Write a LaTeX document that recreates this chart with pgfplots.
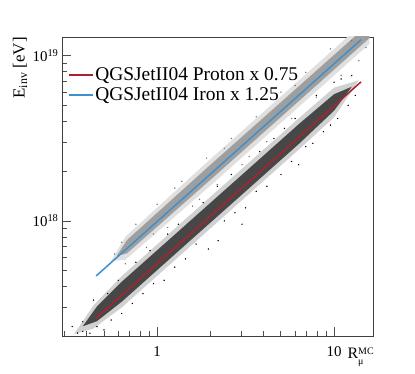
\documentclass[border=0pt]{standalone}
\usepackage{fontspec}
\setmainfont{Liberation Serif}
\usepackage{pgfplots}
\pgfplotsset{compat=1.18}
\definecolor{fitred}{HTML}{A8232F}
\definecolor{fitblue}{HTML}{3D8FCE}

\begin{document}
\begin{tikzpicture}
\begin{axis}[
  scale only axis, width=311bp, height=299bp,
  xmode=log, ymode=log,
  xmin=0.29, xmax=16.6, ymin=2.01e17, ymax=1.3e19,
  axis line style={black!75, line width=0.8pt},
  tick pos=left, tick align=inside,
  major tick length=9bp, minor tick length=5bp,
  tick style={black!70, line width=0.6pt},
  xtick={1,10}, xticklabels={1,10},
  minor xtick={0.3,0.4,0.5,0.6,0.7,0.8,0.9,2,3,4,5,6,7,8,9},
  ytick={1e18,1e19}, yticklabels={10\textsuperscript{18},10\textsuperscript{19}},
  minor ytick={3e17,4e17,5e17,6e17,7e17,8e17,9e17,2e18,3e18,4e18,5e18,6e18,7e18,8e18,9e18},
  ticklabel style={font=\fontsize{15}{17}\selectfont},
  xticklabel style={yshift=-7bp},
  xlabel={R\raisebox{-6bp}{\fontsize{10}{10}\selectfont\shortstack[l]{MC\\[2.5bp]μ}}},
  xlabel style={at={(axis description cs:1.003,-0.07)}, anchor=east, inner sep=0pt,
    font=\fontsize{16}{18}\selectfont},
  ylabel={E\textsubscript{inv} [eV]},
  ylabel style={at={(axis description cs:-0.135,1)}, anchor=east, inner sep=0pt,
    font=\fontsize{17}{19}\selectfont},
  legend style={draw=none, fill=none, at={(rel axis cs:0.018,0.905)}, anchor=north west,
    font=\fontsize{19.5}{22}\selectfont, row sep=2bp, inner sep=0pt,
    cells={anchor=west}},
  legend image code/.code={\draw[#1,line width=1.5pt] (0bp,0bp) -- (24bp,0bp);},
]
\coordinate (sw) at (rel axis cs:0,0);

% proton cloud: sparse halo, dense core, scattered outliers
\addplot[fill=black!18, draw=none, forget plot] coordinates {
  (0.339,2.06e17) (0.437,3.08e17) (0.631,4.63e17) (1.585,1.12e18) (6.310,4.18e18)
  (10,6.41e18) (13.80,7.10e18) (10,4.24e18) (6.310,2.70e18) (1.585,7.21e17)
  (0.631,2.99e17) (0.437,2.23e17)} -- cycle;
\addplot[fill=black!72, draw=none, forget plot] coordinates {
  (0.380,2.30e17) (0.457,3.03e17) (0.631,4.28e17) (1.585,1.03e18) (3.162,1.99e18)
  (6.310,3.85e18) (10,5.85e18) (12.59,6.49e18) (10,4.65e18) (6.310,2.92e18)
  (3.162,1.51e18) (1.585,7.82e17) (0.631,3.24e17) (0.457,2.47e17)} -- cycle;
\addplot[only marks, mark=*, mark size=0.45pt, black, forget plot] coordinates {
  (0.355,2.09e17) (0.380,2.14e17) (0.417,2.09e17) (0.380,2.45e17) (0.331,2.29e17)
  (0.457,2.29e17) (0.501,2.19e17) (0.550,2.51e17) (0.437,3.31e17) (0.525,3.63e17)
  (0.631,2.75e17) (0.724,3.16e17) (0.832,3.63e17) (0.759,5.62e17) (0.955,4.17e17)
  (1.096,4.37e17) (1.148,8.32e17) (1.259,5.25e17) (1.445,5.89e17) (1.660,7.24e17)
  (1.950,6.76e17) (2.213,7.59e17) (1.820,1.29e18) (2.399,1.00e18) (2.754,1.12e18)
  (3.162,1.20e18) (2.630,1.91e18) (3.631,1.51e18) (4.169,1.62e18) (4.571,3.16e18)
  (5.012,1.91e18) (5.754,2.29e18) (6.310,2.19e18) (6.918,2.82e18) (7.586,2.95e18)
  (7.943,5.75e18) (8.710,3.47e18) (9.550,3.80e18) (10.47,4.17e18) (10.96,7.24e18)
  (12.02,5.01e18) (13.18,5.75e18) (12.59,7.59e18) (10,6.92e18) (1.318,9.55e17)
  (2.188,1.62e18) (3.802,2.63e18) (6.026,4.17e18) (0.912,6.61e17) (3.020,9.55e17)
  (5.248,3.63e18) (0.603,4.37e17)};

% iron cloud
\addplot[fill=black!12, draw=none, forget plot] coordinates {
  (0.550,5.73e17) (0.661,8.02e17) (1.995,2.36e18) (5.012,5.68e18) (15.85,1.71e19)
  (15.85,1.18e19) (5.012,3.93e18) (1.995,1.63e18) (0.661,5.81e17)} -- cycle;
\addplot[fill=black!38, draw=none, forget plot] coordinates {
  (0.589,6.11e17) (0.676,7.66e17) (1.995,2.18e18) (5.012,5.24e18) (15.85,1.57e19)
  (15.85,1.28e19) (5.012,4.26e18) (1.995,1.77e18) (0.676,6.37e17)} -- cycle;
\addplot[only marks, mark=*, mark size=0.45pt, black!55, forget plot] coordinates {
  (0.575,6.31e17) (0.631,7.41e17) (0.661,5.50e17) (0.759,9.55e17) (0.871,6.92e17)
  (1,1.26e18) (1.148,9.12e17) (1.380,1.74e18) (1.585,1.23e18) (1.905,2.40e18)
  (2.188,1.66e18) (2.630,3.16e18) (3.020,2.19e18) (3.631,4.27e18) (4.169,3.02e18)
  (5.012,6.03e18) (5.754,4.17e18) (6.918,7.94e18) (7.943,5.62e18) (9.550,1.10e19)
  (10.96,7.59e18) (12.59,1.23e19) (13.80,9.33e18) (1.259,1.58e18) (3.311,2.45e18)
  (1.738,1.35e18) (15.14,1.12e19) (6.026,6.61e18) (2.399,2.75e18) (0.955,8.32e17)};

% fits
\addplot[fitred, line width=1.5pt] coordinates {(0.452,2.58e17) (14.2,6.95e18)};
\addlegendentry{QGSJetII04 Proton x 0.75}
\addplot[fitblue, line width=1.5pt] coordinates {(0.452,4.64e17) (14.2,1.25e19)};
\addlegendentry{QGSJetII04 Iron x 1.25}
\end{axis}
\pgfresetboundingbox
\path[use as bounding box] (sw) ++(-62bp,-38bp) rectangle ++(415bp,374bp);
\end{tikzpicture}
\end{document}
